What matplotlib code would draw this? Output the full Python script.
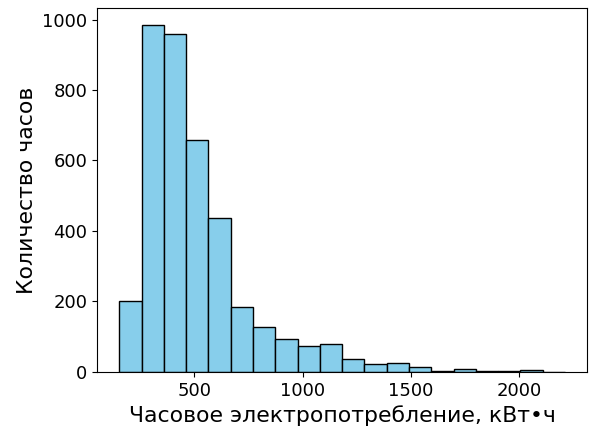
import numpy as np
import matplotlib
matplotlib.use("Agg")
import matplotlib.pyplot as plt

# Histogram data
bin_min = 153
bin_max = 2213
counts = [202, 983, 960, 659, 437, 185, 128, 94, 75, 80,
          37, 22, 26, 14, 4, 8, 4, 4, 6, 1]
xlabel = "Часовое электропотребление, кВт•ч"
ylabel = "Количество часов"

edges = np.linspace(bin_min, bin_max, len(counts) + 1)
centers = (edges[:-1] + edges[1:]) / 2

fig = plt.figure(figsize=(5.92, 4.30), dpi=100)
ax = fig.add_axes([0.164, 0.135, 0.828, 0.846])
ax.hist(centers, bins=edges, weights=counts, color="skyblue", edgecolor="black")
ax.set_xlabel(xlabel, fontsize=15.8)
ax.set_ylabel(ylabel, fontsize=15.8)
ax.tick_params(labelsize=13)
ax.set_xticks([500, 1000, 1500, 2000])
fig.savefig("out.png", dpi=100)
